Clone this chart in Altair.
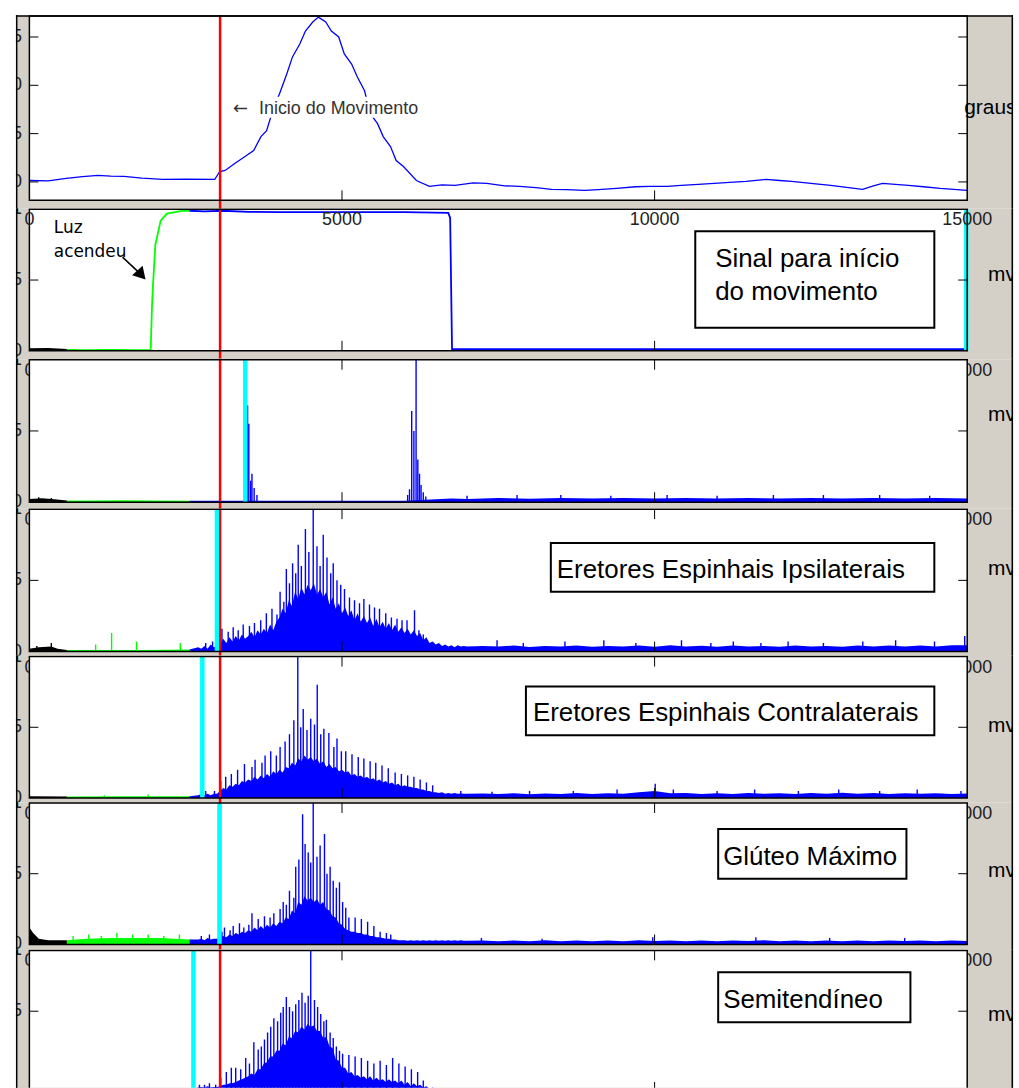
import altair as alt
import pandas as pd

# ------------------------------------------------------------------
# Values (x axis in samples, 0 .. 15000)
# ------------------------------------------------------------------
X_MAX = 15000
X_TICKS = [5000, 10000]
ONSET_X = 3050                       # red line "Inicio do Movimento"
SEG_EDGES = [600, 2560]              # trace colour changes: black -> green -> blue
SEG_COLORS = ["#000000", "#00ff00", "#0000ff"]

# Panel 1 : joint angle (graus)
ANGLE_X = [0, 300, 590, 850, 1100, 1300, 1514, 1800, 2136, 2500,
           2965, 3045, 3131, 3284, 3449, 3587, 3704, 3794, 3911, 4001,
           4118, 4208, 4325, 4415, 4532, 4623, 4740, 4830, 4947, 5037,
           5154, 5244, 5361, 5452, 5569, 5659, 5776, 5866, 5983, 6190,
           6397, 6600, 6807, 7100, 7317, 7600, 7843, 8100, 8353, 8600,
           8879, 9100, 9389, 9700, 9915, 10200, 10425, 10700, 10951, 11200,
           11461, 11780, 12000, 12194, 12500, 12816, 13100, 13326, 13500, 13645,
           13850, 14059, 14300, 14569, 15000]
ANGLE_V = [20.15, 20.1, 20.36, 20.55, 20.67, 20.6, 20.57, 20.4, 20.26, 20.3,
           20.26, 21.08, 21.19, 21.91, 22.63, 23.25, 24.69, 25.31, 27.78, 29.12,
           31.19, 32.94, 34.28, 35.62, 36.55, 37.06, 36.55, 35.62, 35.0, 33.25,
           32.2, 30.88, 29.43, 27.06, 26.03, 24.69, 23.66, 22.22, 21.6, 20.15,
           19.54, 19.7, 19.64, 19.9, 19.85, 19.6, 19.54, 19.4, 19.23, 19.2,
           19.12, 19.2, 19.33, 19.5, 19.54, 19.54, 19.64, 19.75, 19.85, 19.95,
           20.05, 20.26, 20.15, 20.05, 19.85, 19.64, 19.4, 19.23, 19.6, 19.85,
           19.75, 19.64, 19.5, 19.33, 19.12]

# Panel 2 : light signal
SIGNAL_X = [0, 300, 600, 900, 1300, 1700, 1940, 1960, 1975, 2015, 2100, 2200,
            2460, 2560, 2800, 3100, 3500, 4000, 5000, 6000, 6700, 6730, 6760,
            6800, 8000, 10000, 12000, 14000, 15000]
SIGNAL_V = [0.012, 0.014, 0.006, 0.004, 0.006, 0.005, 0.005, 0.30, 0.45, 0.75,
            0.92, 0.97, 0.99, 0.99, 0.985, 0.99, 0.982, 0.98, 0.98, 0.98,
            0.975, 0.94, 0.01, 0.012, 0.012, 0.012, 0.012, 0.012, 0.012]

# Panel 3
P3_BODY_X = [0, 200, 400, 600, 1000, 1500, 2000, 2560, 3000, 4000, 5000, 6000,
             6500, 6750, 7000, 7500, 8000, 8500, 9000, 9500, 10000, 10500, 11000,
             11500, 12000, 12500, 13000, 13500, 14000, 14500, 15000]
P3_BODY_V = [0.022, 0.028, 0.02, 0.012, 0.012, 0.013, 0.012, 0.01, 0.01, 0.01,
             0.01, 0.01, 0.02, 0.026, 0.022, 0.03, 0.024, 0.03, 0.025, 0.03,
             0.025, 0.03, 0.025, 0.03, 0.025, 0.03, 0.025, 0.03, 0.026,
             0.03, 0.026]
P3_SPIKE_X = [150, 350, 3490, 3510, 3540, 3560, 3595, 3640, 6050, 6080, 6115,
              6150, 6185, 6213, 6240, 6265, 6300, 6340, 7000, 7800, 8500, 9300,
              10200, 11000, 11900, 12700, 13600, 14400]
P3_SPIKE_V = [0.035, 0.03, 0.68, 0.55, 0.15, 0.2, 0.1, 0.05, 0.05, 0.09, 0.64,
              0.5, 1.0, 0.3, 0.2, 0.12, 0.07, 0.04, 0.045, 0.05, 0.05, 0.045,
              0.05, 0.045, 0.05, 0.05, 0.05, 0.045]

# Grid (samples) of the dense-body profile in panels 4-7
EMG_GRID = [2700, 2750, 2800, 2850, 2900, 2950, 3000, 3050, 3100, 3150, 3200,
            3250, 3300, 3350, 3400, 3450, 3500, 3550, 3600, 3650, 3700, 3750,
            3800, 3850, 3900, 3950, 4000, 4050, 4100, 4150, 4200, 4250, 4300,
            4350, 4400, 4450, 4500, 4550, 4600, 4650, 4700, 4750, 4800, 4850,
            4900, 4950, 5000, 5050, 5100, 5150, 5200, 5250, 5300, 5350, 5400,
            5450, 5500, 5550, 5600, 5650, 5700, 5750, 5800, 5850, 5900, 5950,
            6000, 6050, 6100, 6150, 6200, 6250, 6300, 6350, 6400, 6450, 6500,
            6550, 6600, 6650, 6700, 6750, 6800, 6850, 6900, 6950, 7000]
QUIET_X = [7250, 7500, 7750, 8000, 8250, 8500, 8750, 9000, 9250, 9500, 9750,
           10000, 10250, 10500, 10750, 11000, 11250, 11500, 11750, 12000, 12250,
           12500, 12750, 13000, 13250, 13500, 13750, 14000, 14250, 14500, 14750,
           15000]

# Panel 4 : Eretores Espinhais Ipsilaterais
P4_PRE_X = [0, 150, 351, 450, 600, 1200, 1800, 2560]
P4_PRE_V = [0.02, 0.03, 0.035, 0.02, 0.012, 0.012, 0.012, 0.015]
P4_BODY_V = [0.03, 0.02, 0.04, 0.02, 0.05, 0.03, 0.04,
             0.05, 0.09, 0.06, 0.10, 0.07, 0.11, 0.08, 0.12, 0.09,
             0.11, 0.14, 0.10, 0.15, 0.12, 0.16, 0.13, 0.19, 0.15, 0.21,
             0.24, 0.30, 0.27, 0.36, 0.32, 0.42, 0.37, 0.45, 0.40, 0.47,
             0.43, 0.48, 0.40, 0.44, 0.38, 0.42, 0.33, 0.38, 0.30, 0.34,
             0.27, 0.31, 0.25, 0.29, 0.22, 0.27, 0.21, 0.25, 0.20, 0.24,
             0.18, 0.23, 0.17, 0.21, 0.16, 0.20, 0.15, 0.19, 0.14, 0.17,
             0.13, 0.16, 0.12, 0.15, 0.11, 0.13, 0.08, 0.10, 0.06, 0.07,
             0.05, 0.06, 0.04, 0.05, 0.035, 0.045, 0.03, 0.045, 0.035, 0.04, 0.035]
P4_QUIET_V = [0.04, 0.035, 0.042, 0.033, 0.04, 0.036, 0.043, 0.034, 0.04, 0.036,
              0.042, 0.034, 0.044, 0.036, 0.041, 0.034, 0.042, 0.035, 0.04, 0.034,
              0.043, 0.036, 0.04, 0.034, 0.042, 0.036, 0.043, 0.035, 0.042, 0.036,
              0.044, 0.045]
P4_SPIKE_X = [120, 351, 1060, 1315, 1713, 2414, 2820, 2930,
              3080, 3180, 3260, 3340, 3420, 3520, 3600, 3700, 3790, 3880, 3960,
              4010, 4070, 4110, 4160, 4210, 4260, 4300, 4350, 4415, 4470, 4540,
              4600, 4650, 4700, 4760, 4820, 4860, 4920, 4980, 5040, 5120, 5200,
              5280, 5350, 5440, 5520, 5600, 5700, 5790, 5880, 5960, 6040, 6160,
              6230, 6300,
              7480, 7900, 8566, 9188, 9700, 10430, 10900, 11259, 11700, 12135,
              12700, 13330, 13855, 14477, 14960]
P4_SPIKE_V = [0.04, 0.06, 0.05, 0.13, 0.07, 0.06, 0.06, 0.07,
              0.16, 0.14, 0.17, 0.15, 0.19, 0.18, 0.20, 0.22, 0.27, 0.30, 0.26,
              0.42, 0.35, 0.58, 0.48, 0.62, 0.55, 0.75, 0.60, 0.86, 0.70, 1.00,
              0.74, 0.60, 0.82, 0.66, 0.55, 0.62, 0.50, 0.47, 0.44, 0.38, 0.36,
              0.34, 0.37, 0.33, 0.31, 0.30, 0.27, 0.24, 0.23, 0.22, 0.22, 0.29,
              0.15, 0.12,
              0.08, 0.06, 0.07, 0.08, 0.06, 0.08, 0.06, 0.07, 0.06, 0.07,
              0.06, 0.07, 0.08, 0.07, 0.11]

# Panel 5 : Eretores Espinhais Contralaterais
P5_PRE_X = [0, 600, 1500, 2560]
P5_PRE_V = [0.012, 0.01, 0.012, 0.012]
P5_BODY_V = [0.02, 0.03, 0.02, 0.03, 0.02, 0.03, 0.03,
             0.05, 0.07, 0.06, 0.09, 0.08, 0.10, 0.09, 0.12, 0.11,
             0.13, 0.12, 0.15, 0.13, 0.16, 0.14, 0.17, 0.15, 0.19, 0.17,
             0.20, 0.18, 0.22, 0.21, 0.25, 0.23, 0.28, 0.26, 0.30, 0.27,
             0.29, 0.26, 0.28, 0.24, 0.26, 0.22, 0.24, 0.21, 0.22, 0.19,
             0.20, 0.18, 0.19, 0.16, 0.17, 0.15, 0.16, 0.14, 0.15, 0.13,
             0.14, 0.12, 0.13, 0.11, 0.12, 0.10, 0.11, 0.09, 0.10, 0.08,
             0.09, 0.08, 0.08, 0.07, 0.07, 0.06, 0.06, 0.05, 0.05, 0.04,
             0.04, 0.035, 0.04, 0.03, 0.035, 0.03, 0.035, 0.03, 0.032, 0.03, 0.03]
P5_QUIET_V = [0.032, 0.028, 0.034, 0.027, 0.032, 0.029, 0.035, 0.028, 0.034, 0.03,
              0.04, 0.05, 0.034, 0.036, 0.028, 0.034, 0.028, 0.035, 0.03, 0.034,
              0.028, 0.035, 0.03, 0.038, 0.03, 0.035, 0.028, 0.034, 0.03, 0.034,
              0.028, 0.032]
P5_SPIKE_X = [1200, 1900, 2820, 2960,
              3060, 3140, 3230, 3330, 3440, 3560, 3610, 3720, 3770, 3860, 3950,
              4010, 4090, 4160, 4230, 4293, 4340, 4380, 4440, 4500, 4560, 4604,
              4660, 4710, 4790, 4870, 4920, 4990, 5060, 5160, 5260, 5350, 5450,
              5540, 5640, 5740, 5850, 5950, 6050, 6150, 6250, 6350, 6450,
              6900, 7400, 8000, 8700, 9400, 10010, 10300, 11000, 11600, 12300,
              12945, 13600, 14200, 14900]
P5_SPIKE_V = [0.02, 0.025, 0.05, 0.05,
              0.12, 0.15, 0.17, 0.20, 0.24, 0.22, 0.27, 0.25, 0.30, 0.33, 0.30,
              0.36, 0.40, 0.45, 0.55, 1.00, 0.50, 0.63, 0.48, 0.56, 0.52, 0.80,
              0.45, 0.49, 0.46, 0.36, 0.42, 0.33, 0.33, 0.31, 0.29, 0.28, 0.26,
              0.25, 0.23, 0.21, 0.18, 0.17, 0.16, 0.15, 0.13, 0.11, 0.09,
              0.05, 0.045, 0.05, 0.05, 0.06, 0.10, 0.06, 0.05, 0.06, 0.05,
              0.06, 0.05, 0.06, 0.05]

# Panel 6 : Gluteo Maximo
P6_PRE_X = [0, 60, 150, 300, 600, 900, 1300, 1700, 2100, 2560]
P6_PRE_V = [0.12, 0.08, 0.04, 0.03, 0.03, 0.04, 0.045, 0.045, 0.045, 0.035]
P6_BODY_V = [0.035, 0.04, 0.03, 0.045, 0.035, 0.04, 0.04,
             0.05, 0.06, 0.05, 0.07, 0.06, 0.08, 0.07, 0.09, 0.08,
             0.10, 0.09, 0.12, 0.10, 0.13, 0.11, 0.14, 0.12, 0.15, 0.13,
             0.16, 0.15, 0.19, 0.18, 0.24, 0.22, 0.30, 0.28, 0.34, 0.31,
             0.33, 0.30, 0.32, 0.28, 0.30, 0.25, 0.24, 0.20, 0.19, 0.15,
             0.14, 0.11, 0.10, 0.09, 0.09, 0.08, 0.08, 0.07, 0.07, 0.06,
             0.06, 0.05, 0.05, 0.045, 0.04, 0.04, 0.035, 0.035, 0.03, 0.03,
             0.03, 0.026, 0.03, 0.026, 0.03, 0.026, 0.03, 0.026, 0.03, 0.026,
             0.03, 0.026, 0.03, 0.026, 0.03, 0.026, 0.03, 0.026, 0.03, 0.026, 0.026]
P6_QUIET_V = [0.027, 0.023, 0.028, 0.022, 0.03, 0.023, 0.027, 0.022, 0.028, 0.023,
              0.03, 0.025, 0.028, 0.022, 0.027, 0.023, 0.028, 0.024, 0.03, 0.022,
              0.027, 0.023, 0.028, 0.022, 0.027, 0.023, 0.028, 0.024, 0.027, 0.022,
              0.028, 0.025]
P6_SPIKE_X = [700, 950, 1150, 1400, 1650, 1900, 2150, 2400, 2750, 2880,
              3080, 3120, 3210, 3260, 3360, 3430, 3510, 3560, 3660, 3760, 3850,
              3910, 4010, 4060, 4110, 4160, 4230, 4260, 4310, 4370, 4410, 4460,
              4500, 4540, 4600, 4650, 4720, 4760, 4810, 4860, 4910, 4960, 5010,
              5060, 5110, 5210, 5310, 5410, 5510, 5610, 5710, 5780,
              7230, 8200, 9970, 11620, 12800, 14000]
P6_SPIKE_V = [0.06, 0.07, 0.06, 0.08, 0.07, 0.07, 0.06, 0.07, 0.06, 0.07,
              0.09, 0.12, 0.10, 0.13, 0.15, 0.12, 0.14, 0.22, 0.18, 0.20, 0.19,
              0.22, 0.25, 0.30, 0.28, 0.38, 0.33, 0.55, 0.60, 0.92, 0.71, 0.65,
              0.58, 1.00, 0.62, 0.70, 0.78, 0.50, 0.55, 0.45, 0.40, 0.44, 0.30,
              0.26, 0.19, 0.19, 0.18, 0.16, 0.13, 0.09, 0.08, 0.07,
              0.045, 0.04, 0.05, 0.05, 0.045, 0.045]

# Panel 7 : Semitendineo
P7_PRE_X = [0, 600, 2560]
P7_PRE_V = [0.02, 0.02, 0.02]
P7_BODY_V = [0.03, 0.035, 0.03, 0.04, 0.03, 0.035, 0.035,
             0.04, 0.05, 0.05, 0.06, 0.06, 0.07, 0.08, 0.09, 0.10,
             0.11, 0.13, 0.12, 0.16, 0.16, 0.20, 0.21, 0.25, 0.25, 0.29,
             0.29, 0.34, 0.33, 0.39, 0.38, 0.43, 0.42, 0.46, 0.44, 0.48,
             0.46, 0.47, 0.43, 0.43, 0.38, 0.39, 0.32, 0.31, 0.23, 0.22,
             0.17, 0.17, 0.13, 0.14, 0.11, 0.12, 0.10, 0.11, 0.09, 0.11,
             0.08, 0.10, 0.08, 0.09, 0.07, 0.09, 0.07, 0.08, 0.06, 0.08,
             0.05, 0.07, 0.04, 0.06, 0.04, 0.05, 0.03, 0.04, 0.02, 0.03,
             0.02, 0.02, 0.02, 0.02, 0.02, 0.02, 0.02, 0.02, 0.02, 0.02, 0.02]
P7_QUIET_V = [0.02] * len(QUIET_X)
P7_SPIKE_X = [2720, 2800, 2880, 2980, 3060, 3150, 3230, 3300, 3380, 3460, 3520,
              3590, 3660, 3710, 3760, 3810, 3860, 3910, 3970, 4020, 4060, 4110,
              4160, 4210, 4260, 4310, 4360, 4410, 4460, 4500, 4560, 4610, 4660,
              4710, 4750, 4810, 4860, 4910, 4960, 5010, 5110, 5210, 5310, 5410,
              5510, 5610, 5710, 5810, 5910, 6010, 6110, 6210, 6300]
P7_SPIKE_V = [0.05, 0.05, 0.06, 0.05, 0.10, 0.14, 0.17, 0.17, 0.16, 0.24, 0.20,
              0.35, 0.30, 0.32, 0.37, 0.42, 0.46, 0.52, 0.50, 0.56, 0.60, 0.67,
              0.60, 0.57, 0.62, 0.65, 0.70, 0.63, 0.68, 1.00, 0.65, 0.60, 0.55,
              0.50, 0.51, 0.42, 0.38, 0.32, 0.29, 0.27, 0.26, 0.25, 0.24, 0.22,
              0.20, 0.22, 0.19, 0.24, 0.20, 0.18, 0.16, 0.14, 0.08]

for arr in (P4_BODY_V, P5_BODY_V, P6_BODY_V, P7_BODY_V):
    assert len(arr) == len(EMG_GRID), len(arr)
for arr in (P4_QUIET_V, P5_QUIET_V, P6_QUIET_V, P7_QUIET_V):
    assert len(arr) == len(QUIET_X), len(arr)
for a, b_ in ((P4_SPIKE_X, P4_SPIKE_V), (P5_SPIKE_X, P5_SPIKE_V),
              (P6_SPIKE_X, P6_SPIKE_V), (P7_SPIKE_X, P7_SPIKE_V), (ANGLE_X, ANGLE_V)):
    assert len(a) == len(b_), (len(a), len(b_))

# ------------------------------------------------------------------
# Layout / style (pixels)
# ------------------------------------------------------------------
GRAY = "#d4d0c8"
FONT = "Liberation Sans"
FIG_LEFT, FIG_RIGHT = 14, 1015
PLOT_L, PLOT_R = 27.5, 969.0
VIEW_W = FIG_RIGHT - FIG_LEFT
K_X = (PLOT_R - PLOT_L) / X_MAX
X_DOMAIN = [-(PLOT_L - FIG_LEFT) / K_X, (FIG_RIGHT - PLOT_L) / K_X]
TICK_LEN = 9

PANELS = [
    dict(view=(11, 205), plot=(12, 197), vals=(37.165, 18.093),
         yticks=[20, 25, 30, 35], ylabels=[(35, "5"), (30, "0"), (25, "5"), (20, "0")],
         top_ticks=False, hidden=False, unit=("graus", 966, 110), cyan=None),
    dict(view=(205, 356), plot=(206, 348), vals=(1, 0), yticks=[0.5],
         ylabels=[(1, "1"), (0.5, "5"), (0, "0")], top_ticks=False, hidden=False,
         unit=("mv", 990, 278), cyan=14985),
    dict(view=(356, 506), plot=(357, 500), vals=(1, 0), yticks=[0.5],
         ylabels=[(1, "1"), (0.5, "5"), (0, "0")], top_ticks=True, hidden=True,
         unit=("mv", 990, 419), cyan=3453),
    dict(view=(506, 654), plot=(507, 650), vals=(1, 0), yticks=[0.5],
         ylabels=[(1, "1"), (0.5, "5"), (0, "0")], top_ticks=True, hidden=True,
         unit=("mv", 990, 573), cyan=3000),
    dict(view=(654, 801), plot=(655, 797), vals=(1, 0), yticks=[0.5],
         ylabels=[(1, "1"), (0.5, "5"), (0, "0")], top_ticks=True, hidden=True,
         unit=("mv", 990, 731), cyan=2766),
    dict(view=(801, 949), plot=(802, 944), vals=(1, 0), yticks=[0.5],
         ylabels=[(1, "1"), (0.5, "5"), (0, "0")], top_ticks=True, hidden=True,
         unit=("mv", 990, 876), cyan=3040),
    dict(view=(949, 1088), plot=(950, 1092), vals=(1, 0), yticks=[0.57],
         ylabels=[(1, "1"), (0.57, "5")], top_ticks=True, hidden=True,
         unit=("mv", 990, 1021), cyan=2624),
]

# annotations in page pixels
ANNOT = {
    0: [("bg", 230, 93, 426, 114),
        ("text", 232, 110, "\u2190", 18, "DejaVu Sans", "#333333"),
        ("text", 258, 110, "Inicio do Movimento", 18, FONT, "#333333")],
    1: [("text", 52, 230, "Luz", 17, "DejaVu Sans", "#000000"),
        ("text", 52, 254, "acendeu", 17, "DejaVu Sans", "#000000"),
        ("rule", 121, 254, 136, 268),
        ("head", 140, 272, 138),
        ("box", 696, 228, 936, 325),
        ("text", 716, 264, "Sinal para início", 26, FONT, "#000000"),
        ("text", 716, 297, "do movimento", 26, FONT, "#000000")],
    3: [("box", 551, 541, 936, 590),
        ("text", 557, 576, "Eretores Espinhais Ipsilaterais", 26, FONT, "#000000")],
    4: [("box", 526, 685, 936, 734),
        ("text", 533, 720, "Eretores Espinhais Contralaterais", 26, FONT, "#000000")],
    5: [("box", 719, 828, 908, 878),
        ("text", 724, 864, "Glúteo Máximo", 26, FONT, "#000000")],
    6: [("box", 719, 972, 912, 1022),
        ("text", 724, 1008, "Semitendíneo", 26, FONT, "#000000")],
}

EMG = {
    3: (P4_PRE_X, P4_PRE_V, P4_BODY_V, P4_QUIET_V, P4_SPIKE_X, P4_SPIKE_V),
    4: (P5_PRE_X, P5_PRE_V, P5_BODY_V, P5_QUIET_V, P5_SPIKE_X, P5_SPIKE_V),
    5: (P6_PRE_X, P6_PRE_V, P6_BODY_V, P6_QUIET_V, P6_SPIKE_X, P6_SPIKE_V),
    6: (P7_PRE_X, P7_PRE_V, P7_BODY_V, P7_QUIET_V, P7_SPIKE_X, P7_SPIKE_V),
}


def seg_name(x):
    if x < SEG_EDGES[0]:
        return "a"
    if x < SEG_EDGES[1]:
        return "b"
    return "c"


def series_rows(xs, vs):
    rows = []
    bounds = [(-1e9, SEG_EDGES[0]), (SEG_EDGES[0], SEG_EDGES[1]), (SEG_EDGES[1], 1e9)]
    for name, (lo, hi) in zip("abc", bounds):
        for x, v in zip(xs, vs):
            if lo <= x <= hi:
                rows.append({"x": x, "v": v, "b": 0.0, "seg": name})
    return pd.DataFrame(rows)


def point_rows(xs, vs):
    return pd.DataFrame([{"x": x, "v": v, "b": 0.0, "seg": seg_name(x)} for x, v in zip(xs, vs)],
                        columns=["x", "v", "b", "seg"])


SEG_COLOR = alt.Color("seg:N", scale=alt.Scale(domain=["a", "b", "c"], range=SEG_COLORS), legend=None)


def build_panel(i, p):
    vt, vb = p["view"]
    pt, pb = p["plot"]
    t, b = p["vals"]
    k = (pb - pt) / (t - b)
    lo = b - (vb - pb) / k
    hi = t + (pt - vt) / k
    H = vb - vt
    xs = alt.Scale(domain=X_DOMAIN, nice=False, zero=False)
    ys = alt.Scale(domain=[lo, hi], nice=False, zero=False)

    def X(f):
        return alt.X(f, type="quantitative", scale=xs, axis=None)

    def Y(f):
        return alt.Y(f, type="quantitative", scale=ys, axis=None, stack=False)

    one = pd.DataFrame({"a": [0]})
    layers = []

    if p["hidden"]:
        df = pd.DataFrame({"x": [0, X_MAX], "t": ["0", "15000"]})
        layers.append(alt.Chart(df).mark_text(font=FONT, fontSize=18, align="center",
                                              baseline="alphabetic", color="#222222", clip=True)
                      .encode(x=X("x"), y=alt.value(pt - vt + 16), text="t:N"))

    rect_df = pd.DataFrame({"x0": [0], "x1": [X_MAX], "y0": [b], "y1": [t]})
    layers.append(alt.Chart(rect_df).mark_rect(fill="white", clip=True)
                  .encode(x=X("x0"), x2="x1", y=Y("y0"), y2="y1"))

    # data traces
    if i == 0:
        df = pd.DataFrame({"x": ANGLE_X, "v": ANGLE_V})
        layers.append(alt.Chart(df).mark_line(color="#0000ff", strokeWidth=1.3, clip=True)
                      .encode(x=X("x"), y=Y("v")))
    elif i == 1:
        df = series_rows(SIGNAL_X, SIGNAL_V)
        layers.append(alt.Chart(df).mark_line(strokeWidth=1.8, clip=True)
                      .encode(x=X("x"), y=Y("v"), color=SEG_COLOR))
    else:
        if i == 2:
            ex, ev, sx, sv = P3_BODY_X, P3_BODY_V, P3_SPIKE_X, P3_SPIKE_V
        else:
            px_, pv_, gv, qv, sx, sv = EMG[i]
            ex = px_ + EMG_GRID + QUIET_X
            ev = pv_ + gv + qv
        body = series_rows(ex, ev)
        layers.append(alt.Chart(body).mark_area(clip=True, opacity=1)
                      .encode(x=X("x"), y=Y("v"), y2="b", color=SEG_COLOR))
        spikes = point_rows(sx, sv)
        layers.append(alt.Chart(spikes).mark_rule(clip=True, strokeWidth=1.4)
                      .encode(x=X("x"), y=Y("b"), y2="v", color=SEG_COLOR))

    # red onset line (spans the whole view, through the gaps)
    red = pd.DataFrame({"x": [ONSET_X], "y0": [lo], "y1": [hi]})
    layers.append(alt.Chart(red).mark_rule(color="#ff0000", strokeWidth=2.5, clip=True)
                  .encode(x=X("x"), y=Y("y0"), y2="y1"))
    if p["cyan"] is not None:
        cy = pd.DataFrame({"x": [p["cyan"]], "y0": [b], "y1": [t]})
        layers.append(alt.Chart(cy).mark_rule(color="#00ffff", strokeWidth=4.5, clip=True)
                      .encode(x=X("x"), y=Y("y0"), y2="y1"))

    # frame
    layers.append(alt.Chart(rect_df).mark_rect(fill="white", fillOpacity=0, stroke="black",
                                               strokeWidth=1.5, clip=True)
                  .encode(x=X("x0"), x2="x1", y=Y("y0"), y2="y1"))

    # inward tick marks
    xt = []
    for tx in X_TICKS:
        xt.append({"x": tx, "y0": b, "y1": b + 10 / k})
        if p["top_ticks"]:
            xt.append({"x": tx, "y0": t, "y1": t - 10 / k})
    layers.append(alt.Chart(pd.DataFrame(xt)).mark_rule(color="black", strokeWidth=1, clip=True)
                  .encode(x=X("x"), y=Y("y0"), y2="y1"))
    yt = []
    for tv in p["yticks"]:
        yt.append({"x0": 0, "x1": TICK_LEN / K_X, "v": tv})
        yt.append({"x0": X_MAX - TICK_LEN / K_X, "x1": X_MAX, "v": tv})
    layers.append(alt.Chart(pd.DataFrame(yt)).mark_rule(color="black", strokeWidth=1, clip=True)
                  .encode(x=X("x0"), x2="x1", y=Y("v")))

    # left (clipped) tick labels
    yl = pd.DataFrame({"v": [a for a, _ in p["ylabels"]], "t": [s for _, s in p["ylabels"]]})
    layers.append(alt.Chart(yl).mark_text(font=FONT, fontSize=18, align="right", baseline="middle",
                                          color="#222222", clip=True)
                  .encode(x=alt.value(6), y=Y("v"), text="t:N"))

    # x tick labels on top of panel 2
    if i == 1:
        df = pd.DataFrame({"x": [0] + X_TICKS + [X_MAX], "t": ["0", "5000", "10000", "15000"]})
        layers.append(alt.Chart(df).mark_text(font=FONT, fontSize=18, align="center",
                                              baseline="alphabetic", color="#222222", clip=True)
                      .encode(x=X("x"), y=alt.value(pt - vt + 16), text="t:N"))

    # unit label at right
    ut, ux_, uy_ = p["unit"]
    layers.append(alt.Chart(pd.DataFrame({"t": [ut]})).mark_text(
        font=FONT, fontSize=21, align="left", baseline="alphabetic", color="#000000", clip=True)
        .encode(x=alt.value(ux_ - FIG_LEFT), y=alt.value(uy_ - vt), text="t:N"))

    # annotations
    for item in ANNOT.get(i, []):
        kind = item[0]
        if kind in ("box", "bg"):
            _, x0, y0, x1, y1 = item
            mk = dict(fill="white", clip=True)
            if kind == "box":
                mk.update(stroke="black", strokeWidth=2)
            layers.append(alt.Chart(one).mark_rect(**mk).encode(
                x=alt.value(x0 - FIG_LEFT), x2=alt.value(x1 - FIG_LEFT),
                y=alt.value(y0 - vt), y2=alt.value(y1 - vt)))
        elif kind == "text":
            _, x0, y0, s, size, font, col = item
            layers.append(alt.Chart(pd.DataFrame({"t": [s]})).mark_text(
                font=font, fontSize=size, align="left", baseline="alphabetic", color=col, clip=True)
                .encode(x=alt.value(x0 - FIG_LEFT), y=alt.value(y0 - vt), text="t:N"))
        elif kind == "rule":
            _, x0, y0, x1, y1 = item
            layers.append(alt.Chart(one).mark_rule(color="black", strokeWidth=1.5, clip=True).encode(
                x=alt.value(x0 - FIG_LEFT), x2=alt.value(x1 - FIG_LEFT),
                y=alt.value(y0 - vt), y2=alt.value(y1 - vt)))
        elif kind == "head":
            _, x0, y0, ang = item
            layers.append(alt.Chart(one).mark_point(shape="triangle-up", filled=True, color="black",
                                                    opacity=1, size=200, angle=ang, clip=True).encode(
                x=alt.value(x0 - FIG_LEFT), y=alt.value(y0 - vt)))

    # figure border lines
    layers.append(alt.Chart(one).mark_rule(color="black", strokeWidth=1.5).encode(
        x=alt.value(0.75), y=alt.value(0), y2=alt.value(H)))
    layers.append(alt.Chart(one).mark_rule(color="black", strokeWidth=1.5).encode(
        x=alt.value(VIEW_W - 0.75), y=alt.value(0), y2=alt.value(H)))
    if i == 0:
        layers.append(alt.Chart(one).mark_rule(color="black", strokeWidth=1.5).encode(
            x=alt.value(0), x2=alt.value(VIEW_W), y=alt.value(1)))

    return alt.layer(*layers).properties(width=VIEW_W, height=H)


panels = [build_panel(i, p) for i, p in enumerate(PANELS)]

chart = alt.vconcat(*panels, spacing=0, bounds="flush").properties(
    background="white",
    padding={"left": FIG_LEFT, "top": PANELS[0]["view"][0], "right": 1019 - FIG_RIGHT, "bottom": 0},
).configure_view(fill=GRAY, stroke="transparent")

chart.save("out.html", embed_options={"renderer": "svg", "actions": False})
